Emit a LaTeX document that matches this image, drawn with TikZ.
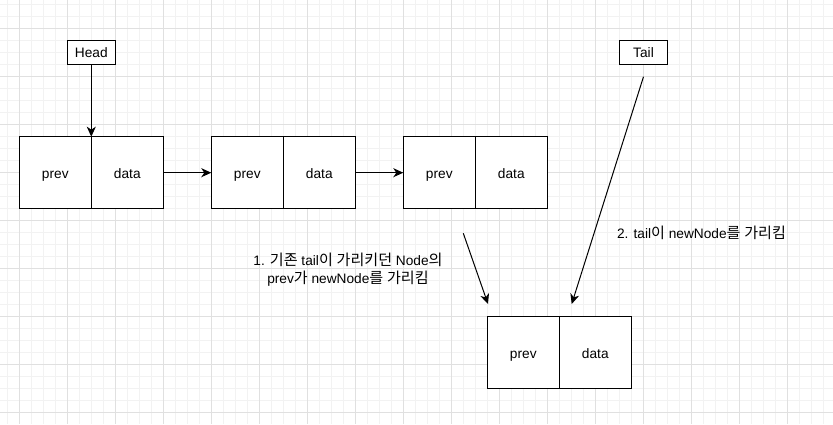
\documentclass[tikz,border=0pt]{standalone}
\usepackage{fontspec}
\setmainfont{Liberation Sans}
\newfontfamily\kr[Scale=1.1]{Noto Sans CJK KR}
\usetikzlibrary{positioning}
\usetikzlibrary{arrows.meta}

\begin{document}
\begin{tikzpicture}[x=1pt,y=-1pt,
                    every node/.style={font=\fontsize{13.7}{16}\selectfont},
                    cell/.style={draw, line width=1pt, minimum width=72pt, minimum height=72pt,
                                 inner sep=0pt, outer sep=0pt, fill=white,
                                 text height=11pt, text depth=0pt},
                    ptr/.style={draw, line width=1pt, minimum width=48pt, minimum height=24pt,
                                inner sep=0pt, outer sep=0pt, fill=white,
                                text height=10pt, text depth=0pt},
                    link/.style={draw, line width=1pt, -{Stealth[length=10pt,width=9pt,inset=3pt]}},
                    note/.style={align=center, font=\fontsize{13.7}{17.7}\selectfont},
                    minor/.style={black!5, line width=0.8pt},
                    major/.style={black!12, line width=0.8pt}]
    \useasboundingbox (0,0) rectangle (833,424);
    \fill[white] (0,0) rectangle (833,424);
    % grid
    \foreach \k in {0,...,68} \draw[minor] ({7.3+12*\k},0) -- ++(0,424);
    \foreach \k in {0,...,34} \draw[minor] (0,{4.7+12*\k}) -- ++(833,0);
    \foreach \k in {0,...,16} \draw[major] ({19.3+48*\k},0) -- ++(0,424);
    \foreach \k in {0,...,8} \draw[major] (0,{28.7+48*\k}) -- ++(833,0);

    % list nodes
    \node[cell] (p1) at (55.3,172.7) {prev};
    \node[cell, right=0pt of p1] (d1) {data};
    \node[cell] (p2) at (247.3,172.7) {prev};
    \node[cell, right=0pt of p2] (d2) {data};
    \node[cell] (p3) at (439.3,172.7) {prev};
    \node[cell, right=0pt of p3] (d3) {data};
    \node[cell] (p4) at (523.3,352.7) {prev};
    \node[cell, right=0pt of p4] (d4) {data};

    % pointers
    \node[ptr] (head) at (91.3,52.7) {Head};
    \node[ptr] (tail) at (643.5,52.7) {Tail};

    \node[note] (n1) at (348,270) {1. {\kr 기존} tail{\kr 이} {\kr 가리키던} Node{\kr 의}\\prev{\kr 가} newNode{\kr 를} {\kr 가리킴}};
    \node[note] (n2) at (701.5,232.7) {2. tail{\kr 이} newNode{\kr 를} {\kr 가리킴}};

    \coordinate (a1) at (463.3,233.3);
    \coordinate (a2) at (488,304);
    \coordinate (t2) at (571.7,304);

    \draw[link] (head.south) -- (p1.north east);
    \draw[link] (d1.east) -- (p2.west);
    \draw[link] (d2.east) -- (p3.west);
    \draw[link] (a1) -- (a2);
    \draw[link] ([yshift=-12pt]tail.south) -- (t2);
\end{tikzpicture}
\end{document}
